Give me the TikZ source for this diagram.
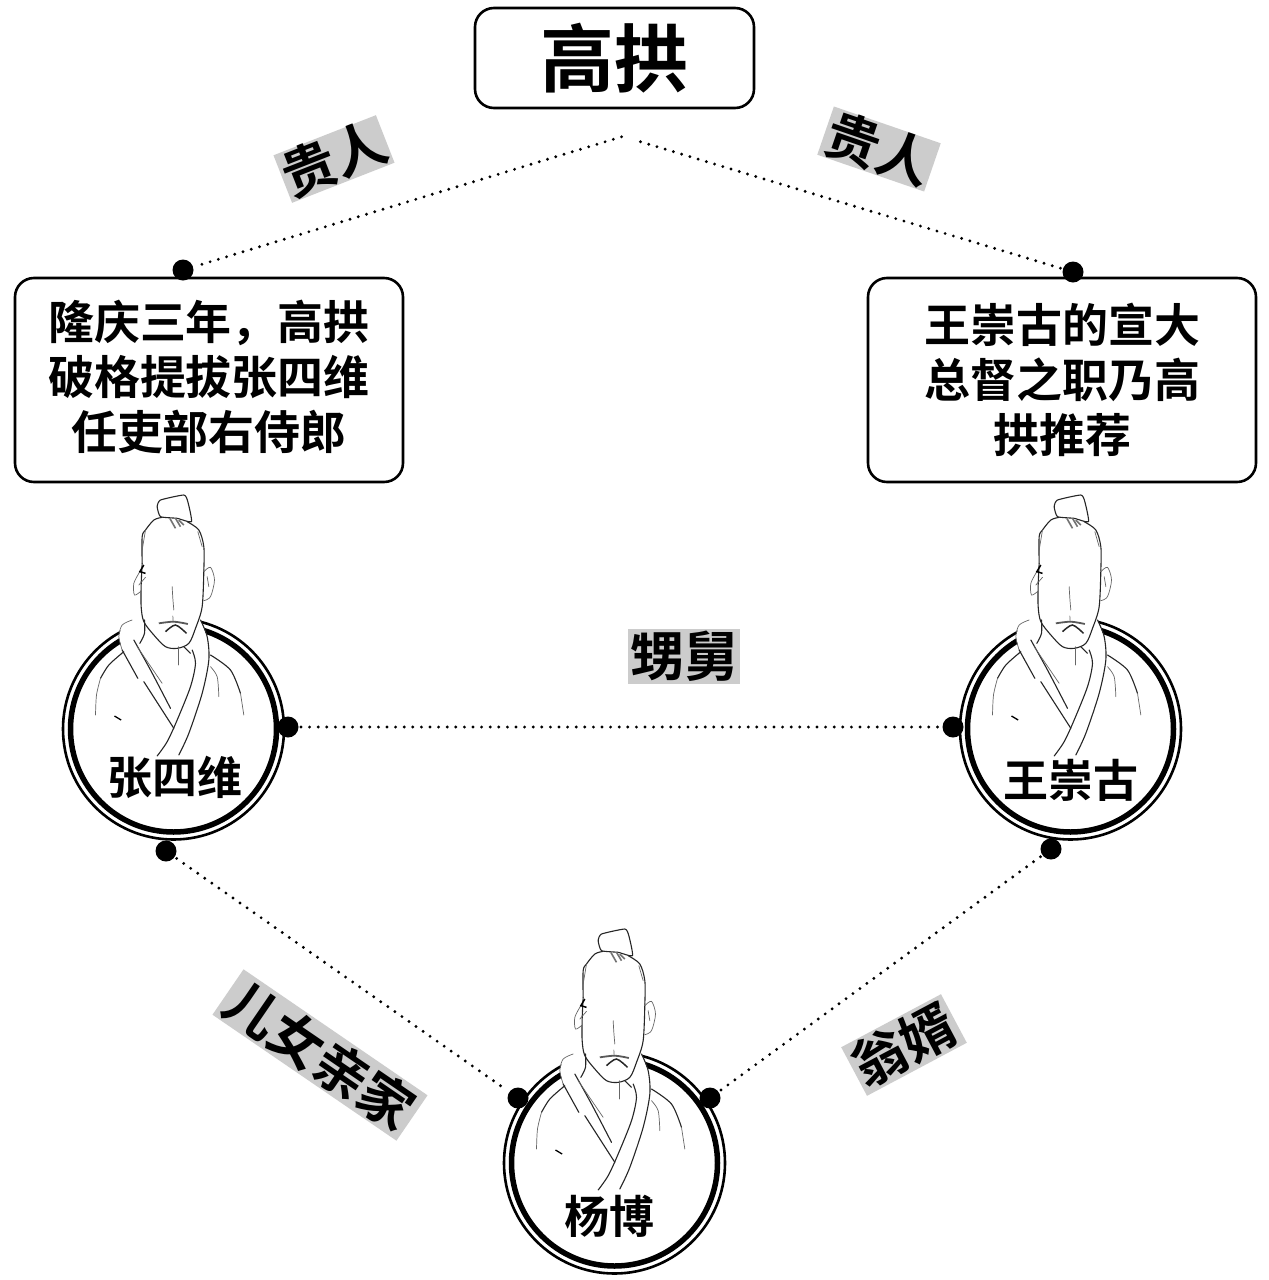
\documentclass[tikz,border=0pt]{standalone}
\usepackage{fontspec}
\setmainfont{Noto Sans CJK SC}[BoldFont={* Bold}]
\usetikzlibrary{calc}
\definecolor{tagbg}{HTML}{CCCCCC}
\newcommand{\fsz}[1]{\fontsize{#1}{#1}\selectfont\bfseries}
\newcommand{\psz}{\fontsize{46}{55}\selectfont\bfseries}
\tikzset{
  panel/.style={draw=black,line width=2.6pt,rounded corners=19pt,fill=white,inner sep=0pt,align=center},
  paneltext/.style={inner sep=0pt,align=center,font=\psz},
  tagbox/.style={fill=tagbg,inner sep=0pt,text=black,font=\fsz{54}},
  pin/.style={circle,fill=black,draw=none,minimum size=21pt,inner sep=0pt},
  link/.style={line width=3.2pt,dash pattern=on 0pt off 8.6pt,line cap=round,shorten >=13pt,shorten <=13pt},
  sketch/.style={line width=1.1pt,draw=black!85,line cap=round,line join=round},
  sketchthin/.style={line width=0.7pt,draw=black!60,line cap=round},
  nameplate/.style={inner sep=0pt,font=\fsz{45}},
  portrait/.pic={
    \draw[line width=5.5pt] (0,0) circle[radius=103];
    \draw[line width=2.6pt] (0,0) circle[radius=110.5];
    \begin{scope}[scale=0.33333,shift={(-369,-732)}]
      % white silhouette over the ring
      \fill[white] (245,405) -- (215,420) -- (205,455) -- (215,495) -- (262,580) -- (370,730) -- (415,745) -- (455,625) -- (475,525) -- (470,455) -- (450,405) -- (360,380) -- cycle;
      % bun
      \draw[sketch,fill=white] plot[smooth cycle,tension=0.3] coordinates {(320,65) (330,45) (400,30) (412,50) (423,110) (380,100) (330,95)};
      % hair
      \draw[sketch] plot[smooth] coordinates {(275,235) (275,155) (285,135) (310,105) (335,97)};
      \draw[sketch] plot[smooth] coordinates {(410,110) (445,135) (460,185) (460,255)};
      \draw[sketchthin] (285,135) -- (275,195) (442,140) -- (455,185);
      \draw[line width=1.6pt,draw=black!55] (358,100) -- (375,130) (375,100) -- (390,125) (385,105) -- (400,120);
      % face
      \draw[sketch] plot[smooth] coordinates {(275,235) (272,300) (272,365) (280,410) (310,450) (345,485) (380,490) (415,475) (435,430) (455,365) (460,255)};
      % ears
      \draw[sketchthin] plot[smooth] coordinates {(268,260) (250,295) (252,330) (272,318)};
      \draw[line width=1.5pt] (280,240) -- (268,260) -- (285,265);
      \draw[sketchthin] (265,300) -- (285,277);
      \draw[sketchthin] plot[smooth] coordinates {(460,260) (480,247) (492,285) (480,335) (460,347)};
      \draw[sketchthin] (470,275) -- (475,305);
      % nose and mouth
      \draw[sketchthin] plot[smooth] coordinates {(365,305) (367,340) (370,375)};
      \draw[sketchthin] (367,393) -- (368,410);
      \draw[line width=1.8pt,draw=black!65] plot[smooth] coordinates {(325,415) (370,410) (412,417)};
      \draw[line width=1.5pt,draw=black!85] plot[smooth] coordinates {(345,440) (375,420) (408,445)};
      % collar left
      \draw[sketchthin] plot[smooth] coordinates {(245,405) (215,420) (205,455) (215,495)};
      \draw[sketch] (215,495) -- (262,580) (280,590) -- (370,730);
      \draw[sketch] plot[smooth] coordinates {(250,465) (300,555) (360,670)};
      \draw[sketchthin] (260,485) -- (335,595);
      \draw[sketch] plot[smooth] coordinates {(282,405) (282,445) (268,475)};
      % collar right
      \draw[sketch] plot[smooth] coordinates {(450,405) (470,455) (475,525) (455,625) (415,745) (385,810)};
      \draw[sketch] plot[smooth] coordinates {(425,495) (435,535) (420,605) (380,705) (350,770) (320,813)};
      % neck
      \draw[sketchthin] (385,485) -- (385,540);
      \draw[sketch] plot[smooth] coordinates {(400,485) (420,505)};
      % shoulders
      \draw[sketch] plot[smooth] coordinates {(220,500) (175,540) (150,580)};
      \draw[sketchthin] plot[smooth] coordinates {(150,580) (138,630) (135,690)};
      \draw[sketch] plot[smooth] coordinates {(480,510) (540,555) (570,625)};
      \draw[sketchthin] (570,625) -- (580,690);
      \draw[sketchthin] plot[smooth] coordinates {(480,545) (500,575) (505,635)};
      \draw[line width=1.3pt] (192,693) -- (212,705);
    \end{scope}
  }
}
\begin{document}
\begin{tikzpicture}[x=1pt,y=-1pt]
\useasboundingbox (0,0) rectangle (1269,1280);
\fill[white] (0,0) rectangle (1269,1280);

% title and text panels
\node[panel,minimum width=279pt,minimum height=100pt,font=\fsz{74}] (gao) at (614.5,58) {高拱};
\node[panel,minimum width=388pt,minimum height=204pt] (lbox) at (209,380) {};
\node[paneltext] (ltext) at (209,377) {隆庆三年\symbol{"FF0C}高拱\\破格提拔张四维\\任吏部右侍郎};
\node[panel,minimum width=388pt,minimum height=204pt] (rbox) at (1062,380) {};
\node[paneltext] (rtext) at (1062,380) {王崇古的宣大\\总督之职乃高\\拱推荐};

% portraits
\pic (pa) at (173.5,729) {portrait};
\pic (pb) at (1070.5,729) {portrait};
\pic (pc) at (614.5,1163) {portrait};
\node[nameplate] (na) at (175,777) {张四维};
\node[nameplate] (nb) at (1071,780) {王崇古};
\node[nameplate] (nc) at (609,1216) {杨博};

% apex ends and pins
\coordinate (apexl) at (634,133);
\coordinate (apexr) at (628,138);
\node[pin] (d1) at (183,270) {};
\node[pin] (d2) at (1073,272) {};
\node[pin] (d3) at (288,727) {};
\node[pin] (d4) at (953,727) {};
\node[pin] (d5) at (166,851) {};
\node[pin] (d6) at (1051,849) {};
\node[pin] (d7) at (518,1098) {};
\node[pin] (d8) at (710,1098) {};

% connectors
\draw[link] (apexl) -- (d1.center);
\draw[link] (apexr) -- (d2.center);
\draw[link] (d3.center) -- (d4.center);
\draw[link] (d5.center) -- (d7.center);
\draw[link] (d6.center) -- (d8.center);

% relation tags
\node[tagbox,minimum width=110pt,minimum height=50pt,rotate=21.4] (t1) at (334,159) {贵人};
\node[tagbox,minimum width=113pt,minimum height=50pt,rotate=-19] (t2) at (879,149) {贵人};
\node[tagbox,minimum width=112pt,minimum height=55pt] (t3) at (684,656) {甥舅};
\node[tagbox,minimum width=223pt,minimum height=55pt,rotate=-34.4] (t4) at (320,1055) {儿女亲家};
\node[tagbox,minimum width=113pt,minimum height=55pt,rotate=28] (t5) at (904,1045) {翁婿};
\end{tikzpicture}
\end{document}
